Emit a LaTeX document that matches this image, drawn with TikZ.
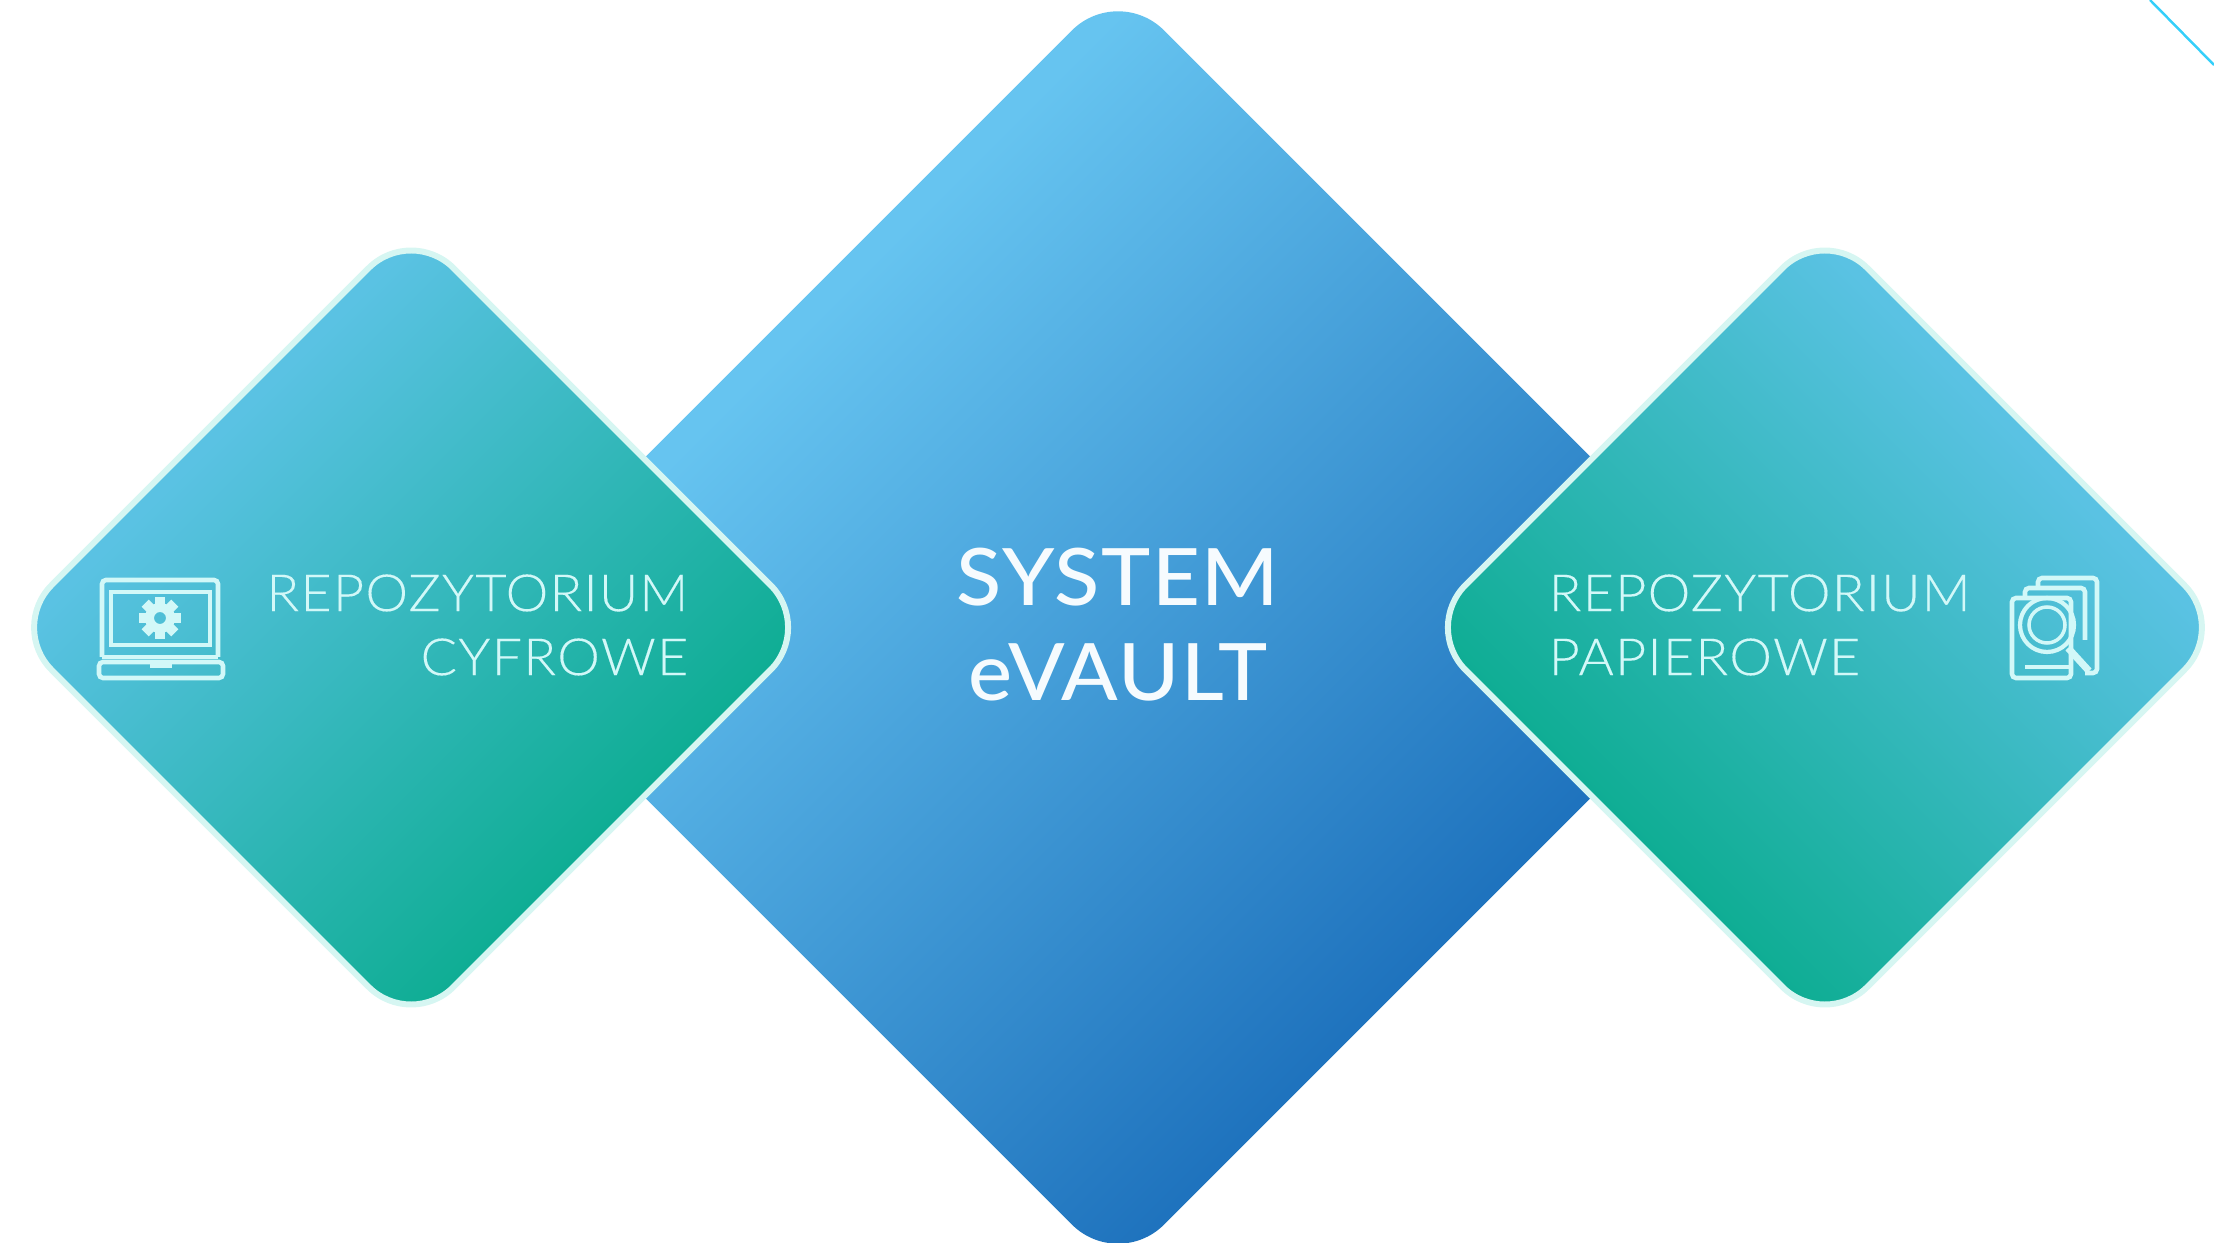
\documentclass[tikz,border=0pt]{standalone}
\usepackage{fontspec}
\setmainfont{Lato}
\newfontfamily\thinfont{Lato Light}[LetterSpace=2.5, FakeStretch=1.05, FakeBold=0.2]
\newfontfamily\boldfont{Lato Medium}[LetterSpace=2, FakeStretch=1.05]
\definecolor{skyblue}{HTML}{66C4F0}
\definecolor{deepblue}{HTML}{1E72BD}
\definecolor{paleblue}{HTML}{5AC2E3}
\definecolor{seagreen}{HTML}{0EAD93}
\definecolor{edgepale}{HTML}{D6F6F2}
\definecolor{inkpale}{HTML}{D2F8F8}
\definecolor{cornerline}{HTML}{35CFFA}
\pgfdeclarehorizontalshading{bluegrad}{100bp}{color(0bp)=(skyblue); color(33bp)=(skyblue); color(68bp)=(deepblue); color(100bp)=(deepblue)}
\pgfdeclarehorizontalshading{greengrad}{100bp}{color(0bp)=(paleblue); color(33bp)=(paleblue); color(68bp)=(seagreen); color(100bp)=(seagreen)}
\tikzset{
    tile/.style={rectangle, outer sep=0pt, inner sep=0pt},
    bigtile/.style={tile, minimum size=9.09cm, rounded corners=0.65cm, rotate=-45,
        shading=bluegrad, shading angle=-45},
    lefttile/.style={tile, minimum size=5.68cm, rounded corners=0.6cm, rotate=-45,
        draw=edgepale, line width=1.7pt, shading=greengrad, shading angle=-45},
    righttile/.style={tile, minimum size=5.68cm, rounded corners=0.6cm, rotate=45,
        draw=edgepale, line width=1.7pt, shading=greengrad, shading angle=-135},
    caption/.style={text=inkpale, inner sep=0pt, font=\thinfont\fontsize{14.6}{18.2}\selectfont},
    title/.style={text=white!94!skyblue, inner sep=0pt, align=center, font=\boldfont\fontsize{22.5}{27}\selectfont},
    icon/.style={draw=inkpale, line width=1.3pt, rounded corners=0.04cm},
}
\begin{document}
\begin{tikzpicture}[x=0.01cm, y=-0.01cm, node distance=7.065cm]
        \useasboundingbox (0,0) rectangle (2214,1243);

        % Nodes
        \node[bigtile] (system) at (1118,627.5) {};
        \node[left of=system, lefttile] (digital) {};
        \node[right of=system, righttile] (paper) {};
        \node[title] (systemtext) at (1118,625) {SYSTEM\\eVAULT};
        \node[caption, align=right, anchor=east] (digitaltext) at (689,625) {REPOZYTORIUM\\CYFROWE};
        \node[caption, align=left, anchor=west] (papertext) at (1548,625) {REPOZYTORIUM\\PAPIEROWE};

        % Corner line
        \coordinate (linestart) at (2150,0);
        \coordinate (lineend) at (2214,65);
        \draw[cornerline, line width=0.7pt] (linestart) -- (lineend);

        % Laptop
        \draw[icon] (102,657) -- (102,580) -- (218,580) -- (218,657);
        \draw[icon, line width=1pt, sharp corners] (111,645) rectangle (210,592);
        \draw[icon, line width=1pt] (102,657) -- (218,657);
        \draw[icon] (99,662) rectangle (223,678);
        \fill[inkpale] (150,662) rectangle (172,668);
        \fill[inkpale, even odd rule] (160,618) circle (15) (160,618) circle (6);
        \foreach \a in {0,45,...,315} {
            \fill[inkpale, rotate around={\a:(160,618)}] (155,597) rectangle (165,606);
        }

        % Papers
        \draw[icon] (2038,588) -- (2038,578) -- (2097,578) -- (2097,673) -- (2085,673);
        \draw[icon] (2025,598) -- (2025,588) -- (2085,588) -- (2085,640);
        \draw[icon] (2025,667) -- (2071,667);
        \draw[icon] (2012,598) rectangle (2071,678);
        \draw[inkpale, line width=1.2pt] (2047,625) circle (27);
        \draw[inkpale, line width=1pt] (2047,625) circle (18);
        \draw[inkpale, line width=2pt] (2068,648) -- (2089,671);
\end{tikzpicture}
\end{document}
